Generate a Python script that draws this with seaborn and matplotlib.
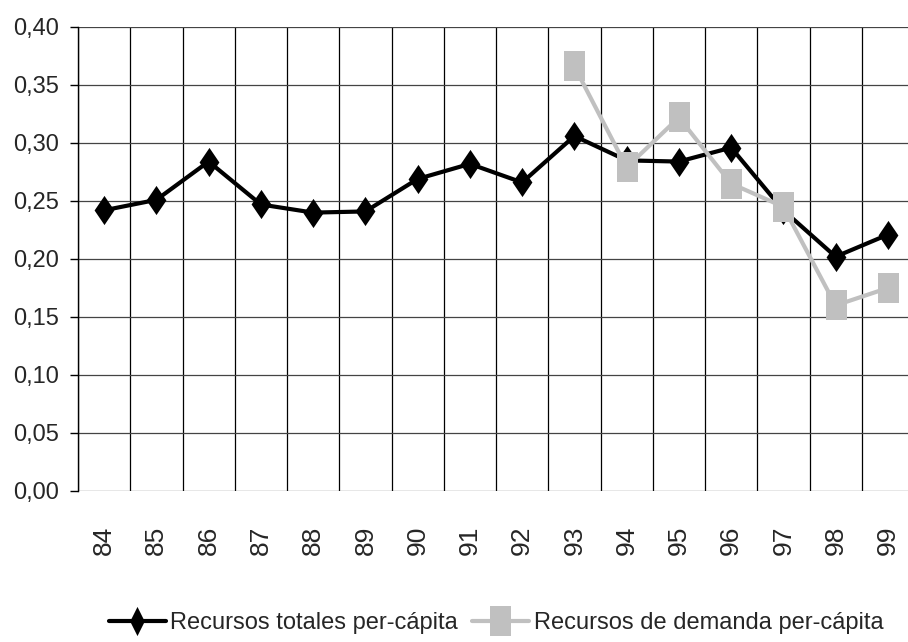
import numpy as np
import pandas as pd
import matplotlib.pyplot as plt
import seaborn as sns

years = ['84', '85', '86', '87', '88', '89', '90', '91', '92', '93', '94', '95', '96', '97', '98', '99']
totales = [0.242, 0.251, 0.284, 0.247, 0.240, 0.241, 0.269, 0.282, 0.266, 0.306,
           0.285, 0.284, 0.296, 0.242, 0.202, 0.221]
demanda_years = ['93', '94', '95', '96', '97', '98', '99']
demanda = [0.366, 0.279, 0.322, 0.265, 0.245, 0.160, 0.175]
y_ticks = [0.00, 0.05, 0.10, 0.15, 0.20, 0.25, 0.30, 0.35, 0.40]

sns.set_style('white')
plt.rcParams['font.family'] = ['Liberation Sans Narrow', 'Liberation Sans', 'DejaVu Sans']

df_tot = pd.DataFrame({'x': [years.index(y) for y in years], 'valor': totales})
df_dem = pd.DataFrame({'x': [years.index(y) for y in demanda_years], 'valor': demanda})

# tall diamond and tall rectangle (the original looks stretched vertically)
diamond = [(0, 1), (0.68, 0), (0, -1), (-0.68, 0), (0, 1)]
rect = [(-0.72, -1), (0.72, -1), (0.72, 1), (-0.72, 1), (-0.72, -1)]

fig = plt.figure(figsize=(9.08, 6.42), dpi=100)
ax = fig.add_axes([78 / 908, 1 - 491 / 642, 836 / 908, 464 / 642])

sns.lineplot(data=df_tot, x='x', y='valor', ax=ax, color='black', linewidth=3,
             marker=diamond, markersize=21, markeredgewidth=0,
             label='Recursos totales per-cápita', zorder=3)
sns.lineplot(data=df_dem, x='x', y='valor', ax=ax, color='#c0c0c0', linewidth=3,
             marker=rect, markersize=21, markeredgewidth=0,
             label='Recursos de demanda per-cápita', zorder=4)

ax.set_xlim(-0.5, 15.5)
ax.set_ylim(0, 0.40)
ax.set_xticks(range(len(years)))
ax.set_xticklabels(years, rotation=90, fontsize=19)
ax.set_xticks(np.arange(-0.5, 16, 1), minor=True)
ax.set_yticks(y_ticks)
ax.set_yticklabels([f'{v:.2f}'.replace('.', ',') for v in y_ticks], fontsize=17)
ax.tick_params(axis='x', which='major', length=0, pad=25)
ax.tick_params(axis='x', which='minor', length=9, width=1, color='black', direction='out')
ax.tick_params(axis='y', length=6, width=1, color='black', direction='out', pad=8, left=True)
ax.xaxis.grid(True, which='minor', color='black', linewidth=0.9)
ax.xaxis.grid(False, which='major')
ax.yaxis.grid(True, color='#444444', linewidth=0.9)
ax.set_xlabel('')
ax.set_ylabel('')
for s in ['top', 'right', 'bottom']:
    ax.spines[s].set_visible(False)
ax.spines['left'].set_color('black')
ax.spines['left'].set_linewidth(1)

h, l = ax.get_legend_handles_labels()
ax.get_legend().remove()
leg = fig.legend(h, l, loc='center', bbox_to_anchor=(496 / 908, 1 - 623 / 642), ncol=2,
                 frameon=False, fontsize=17, handlelength=2.4, handletextpad=0.2,
                 columnspacing=0.6, borderaxespad=0)
leg.legend_handles[0].set_marker([(0, 1), (0.5, 0), (0, -1), (-0.5, 0), (0, 1)])

plt.savefig('out.png', dpi=100)
